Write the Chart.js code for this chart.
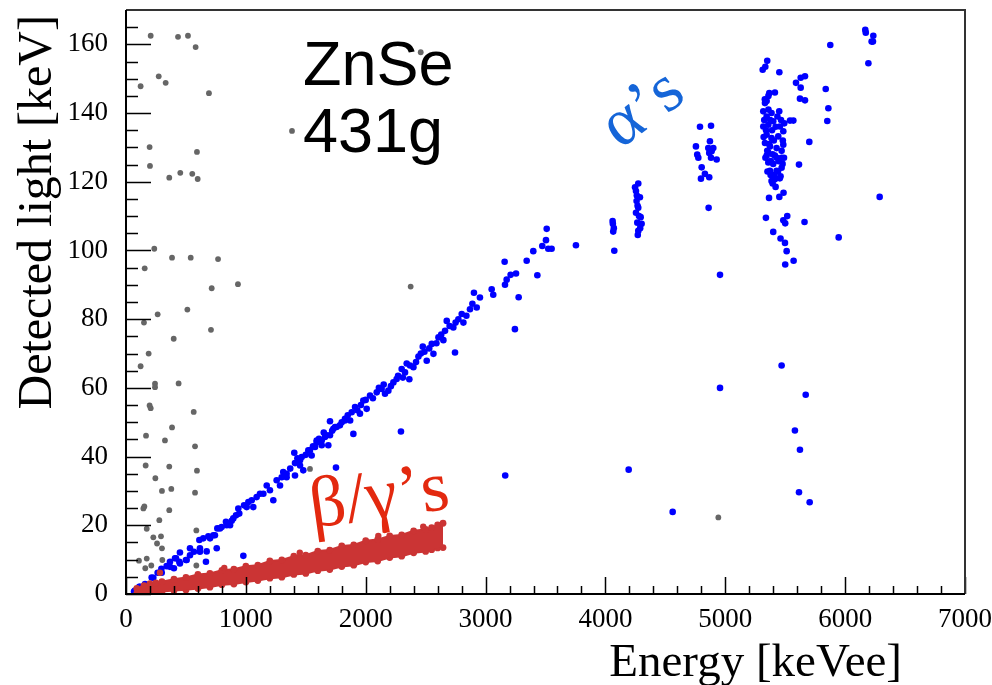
<!DOCTYPE html>
<html>
<head>
<meta charset="utf-8">
<script src="https://cdn.jsdelivr.net/npm/chart.js@4.4.1/dist/chart.umd.min.js"></script>
<style>
  html, body { margin: 0; padding: 0; background: #fff; }
  #wrap { width: 992px; height: 685px; }
</style>
</head>
<body>
<div id="wrap"><canvas id="light_chart" width="992" height="685"></canvas></div>
<script>
// axis ticks
const xTicks = [0, 1000, 2000, 3000, 4000, 5000, 6000, 7000]
const yTicks = [0, 20, 40, 60, 80, 100, 120, 140, 160]

// grey events (energy keVee, light keV)
const greyPts = [
    [206, 162.5], [434, 162.2], [517, 162.5], [581, 159.2], [273, 150.7], [331, 148.8],
    [122, 147.8], [692, 145.8], [1385, 134.8], [197, 130.1], [592, 128.7], [200, 124.6],
    [361, 121.2], [453, 122.6], [553, 122.3], [598, 120.8], [236, 100.5], [156, 94.8],
    [384, 97.9], [540, 97.9], [768, 97.5], [715, 89.0], [934, 90.2], [2375, 89.5],
    [2459, 157.7], [150, 79.0], [264, 81.4], [512, 82.8], [709, 76.9], [398, 74.3],
    [189, 70.0], [122, 66.3], [242, 61.2], [242, 60.2], [439, 61.3], [197, 54.9],
    [206, 54.1], [565, 53.0], [384, 48.5], [167, 46.1], [576, 43.0], [325, 44.7],
    [164, 37.4], [361, 37.1], [592, 35.9], [245, 33.7], [300, 30.0], [378, 30.6],
    [576, 29.5], [145, 24.9], [153, 25.5], [361, 24.4], [278, 21.5], [173, 19.0],
    [587, 18.5], [228, 16.5], [292, 16.8], [259, 14.7], [300, 13.3], [108, 9.7],
    [173, 10.3], [303, 9.9], [211, 8.3], [161, 7.5], [587, 8.3], [1535, 36.4],
    [4942, 22.3]
]

// alpha-like / blue events
const bluePts = [
    [67, 0.7], [75, 1.0], [111, 2.1], [117, 2.1], [159, 2.9], [214, 4.8], [228, 4.7],
    [264, 6.2], [295, 7.3], [298, 6.2], [339, 8.1], [367, 9.4], [367, 7.9], [400, 7.5],
    [409, 10.4], [417, 10.4], [445, 9.4], [450, 12.1], [450, 8.9], [500, 9.9], [506, 9.9],
    [534, 11.3], [534, 13.3], [567, 12.3], [612, 15.7], [617, 13.3], [617, 12.3],
    [645, 16.2], [667, 9.4], [673, 12.4], [687, 16.8], [701, 16.2], [729, 17.1],
    [742, 17.1], [757, 13.3], [762, 19.1], [784, 19.1], [798, 19.5], [834, 21.0],
    [840, 20.0], [868, 20.0], [882, 21.3], [895, 22.0], [918, 22.9], [937, 24.9],
    [945, 23.4], [979, 11.1], [985, 25.8], [1007, 25.3], [1021, 26.8], [1049, 27.3],
    [1062, 25.3], [1090, 28.2], [1118, 29.2], [1146, 29.2], [1174, 31.6], [1201, 30.2],
    [1229, 27.3], [1257, 33.1], [1285, 31.6], [1299, 34.0], [1312, 35.5], [1340, 34.0],
    [1340, 35.0], [1370, 36.5], [1404, 41.1], [1410, 34.5], [1410, 38.1], [1430, 39.5],
    [1452, 38.9], [1452, 37.4], [1466, 39.9], [1479, 36.0], [1500, 40.5], [1521, 41.8],
    [1535, 41.8], [1549, 40.3], [1560, 43.0], [1577, 42.8], [1591, 44.7], [1591, 44.2],
    [1610, 45.2], [1633, 43.3], [1633, 44.7], [1650, 47.0], [1660, 45.7], [1674, 46.2],
    [1688, 43.3], [1702, 50.3], [1702, 46.2], [1720, 47.5], [1730, 48.1], [1744, 48.6],
    [1752, 36.8], [1757, 48.6], [1785, 49.1], [1800, 50.0], [1827, 51.0], [1827, 50.5],
    [1850, 52.0], [1870, 50.5], [1883, 52.9], [1897, 46.6], [1911, 54.4], [1930, 53.5],
    [1952, 52.5], [1960, 55.0], [1980, 56.3], [2000, 56.5], [2008, 53.9], [2036, 57.8],
    [2060, 57.0], [2092, 58.7], [2110, 60.0], [2133, 59.7], [2150, 61.0], [2161, 58.3],
    [2189, 59.2], [2210, 60.5], [2231, 61.6], [2258, 62.6], [2270, 63.5], [2294, 47.3],
    [2300, 65.5], [2310, 63.0], [2328, 64.5], [2342, 67.1], [2364, 62.5], [2370, 66.5],
    [2398, 66.0], [2420, 67.5], [2440, 69.1], [2460, 70.0], [2476, 72.0], [2490, 70.5],
    [2509, 67.9], [2530, 71.5], [2551, 72.8], [2565, 69.9], [2590, 73.0], [2607, 74.7],
    [2630, 75.5], [2648, 73.9], [2662, 76.6], [2676, 79.5], [2700, 78.0], [2731, 77.6],
    [2745, 70.3], [2750, 79.0], [2773, 80.0], [2801, 81.5], [2815, 79.0], [2840, 81.0],
    [2870, 82.9], [2890, 84.5], [2903, 87.7], [2926, 83.4], [2953, 86.3], [3051, 88.7],
    [3064, 87.1], [3159, 96.7], [3162, 90.0], [3164, 34.5], [3176, 91.5], [3209, 92.9],
    [3245, 77.1], [3254, 93.3], [3276, 86.4], [3343, 97.0], [3398, 99.8], [3432, 92.8],
    [3473, 101.3], [3504, 103.0], [3510, 106.3], [3523, 100.5], [3551, 100.5], [3754, 101.5],
    // ~4100 and ~4300 groups
    [4060, 108.6], [4065, 105.5], [4070, 106.5], [4074, 99.9], [4062, 107.8],
    [4247, 118.4], [4274, 119.5], [4255, 117.3], [4288, 115.5], [4260, 114.4], [4274, 112.4],
    [4294, 109.7], [4266, 108.1], [4302, 107.8], [4274, 105.7], [4255, 111.0], [4268, 113.0],
    [4280, 110.0], [4262, 116.0], [4290, 106.5], [4270, 104.5],
    // ~4850 group
    [4789, 136.0], [4881, 136.3], [4755, 130.3], [4766, 127.9], [4775, 127.0], [4872, 131.8],
    [4858, 129.8], [4886, 128.9], [4900, 129.8], [4866, 128.4], [4881, 127.0], [4928, 126.5],
    [4803, 124.2], [4830, 122.3], [4797, 120.9], [4866, 121.3], [4861, 112.4], [4956, 92.9],
    // ~5400 group
    [5331, 142.9], [5317, 140.5], [5345, 139.0], [5386, 140.0], [5450, 140.5], [5317, 136.1],
    [5359, 136.6], [5400, 137.6], [5456, 136.1], [5484, 134.7], [5345, 133.7], [5386, 132.7],
    [5442, 133.2], [5331, 131.3], [5373, 130.3], [5428, 129.8], [5484, 130.8], [5359, 128.5],
    [5414, 127.6], [5470, 127.0], [5345, 127.6], [5359, 125.6], [5400, 125.2], [5478, 125.2],
    [5373, 123.2], [5428, 123.2], [5470, 124.1], [5386, 120.2], [5414, 120.7], [5461, 121.6],
    [5325, 138.0], [5340, 135.0], [5360, 141.0], [5375, 138.0], [5390, 135.0], [5405, 132.0],
    [5420, 136.0], [5435, 139.0], [5465, 138.0], [5480, 132.0], [5470, 129.0], [5445, 126.0],
    [5430, 127.0], [5395, 128.0], [5380, 126.0], [5365, 131.0], [5350, 129.0], [5335, 127.0],
    [5320, 133.0], [5410, 122.0], [5440, 123.0], [5455, 121.0], [5395, 119.5], [5420, 118.5],
    [5378, 122.0], [5352, 123.0], [5490, 127.0], [5492, 137.0], [5330, 144.0], [5345, 143.5],
    [5360, 145.0], [5350, 155.2], [5334, 153.5], [5312, 152.6], [5451, 151.9], [5367, 145.8],
    [5414, 146.0], [5540, 137.8], [5568, 137.8], [5701, 131.6], [5615, 125.0], [5365, 115.3],
    [5451, 115.6], [5486, 116.8], [5339, 109.5], [5484, 108.8], [5517, 110.0], [5500, 107.9],
    [5661, 108.3], [5400, 105.4], [5461, 103.5], [5498, 102.2], [5512, 99.8], [5570, 97.0],
    [5500, 95.9], [5590, 148.8], [5629, 150.3], [5665, 150.7], [5629, 147.4], [5623, 144.2],
    [5665, 143.7],
    // upper right
    [5838, 147.0], [5860, 141.4], [5851, 137.7], [5876, 159.8], [5946, 103.8], [6168, 164.2],
    [6172, 163.4], [6235, 162.5], [6221, 160.8], [6232, 160.8], [6194, 154.5], [6288, 115.6],
    // scattered low
    [4194, 36.2], [4561, 23.9], [4956, 60.0], [5470, 66.5], [5671, 58.0], [5581, 47.6],
    [5623, 42.0], [5615, 29.6], [5704, 26.7]
]

// beta/gamma band: lower and upper edge of the red cloud
const redE = [90, 150, 200, 250, 300, 400, 500, 600, 700, 800, 900, 1000, 1100, 1200, 1300,
    1400, 1500, 1600, 1700, 1800, 1900, 2000, 2100, 2200, 2300, 2400, 2500, 2550, 2600, 2645]
const redLow = [0.2, 0.3, 0.5, 0.6, 0.7, 1.0, 1.2, 1.6, 2.0, 2.7, 2.9, 3.5, 3.9, 4.6, 4.9,
    5.7, 6.0, 6.8, 7.1, 8.0, 8.4, 9.3, 9.6, 10.6, 11.0, 12.0, 12.4, 12.9, 13.4, 13.5]
const redHigh = [1.6, 2.4, 3.0, 3.2, 3.6, 4.3, 4.8, 5.7, 6.0, 6.9, 7.2, 8.1, 8.4, 9.6, 9.9,
    11.0, 11.3, 12.5, 12.8, 14.0, 14.3, 15.5, 15.9, 16.9, 17.2, 18.4, 18.8, 19.3, 20.1, 20.6]
const redPts = [[283, 6.2], [2105, 16.9], [2480, 19.6], [1450, 12.0], [820, 7.6]]

const RED = '#cb3434'
const xy = arr => arr.map(p => ({ x: p[0], y: p[1] }))

// frame, inward ticks and the text labels (ROOT style)
const rootStyle = {
    id: 'rootStyle',
    afterDraw(chart) {
        const ctx = chart.ctx
        const a = chart.chartArea
        const sx = chart.scales.x
        const sy = chart.scales.y
        ctx.save()
        ctx.strokeStyle = '#000'
        ctx.lineWidth = 1.5
        ctx.beginPath()
        for (let v = 0; v <= 7000; v += 200) {
            const px = Math.round(sx.getPixelForValue(v)) + 0.5
            const len = v % 1000 === 0 ? 17 : 8
            ctx.moveTo(px, a.bottom)
            ctx.lineTo(px, a.bottom - len)
        }
        for (let v = 0; v <= 165; v += 5) {
            const py = Math.round(sy.getPixelForValue(v)) + 0.5
            const len = v % 20 === 0 ? 25 : 12
            ctx.moveTo(a.left, py)
            ctx.lineTo(a.left + len, py)
        }
        ctx.stroke()

        ctx.lineWidth = 2
        ctx.strokeStyle = '#333'
        ctx.beginPath()
        ctx.moveTo(a.left, a.top)
        ctx.lineTo(a.right, a.top)
        ctx.lineTo(a.right, a.bottom)
        ctx.stroke()
        ctx.strokeStyle = '#000'
        ctx.beginPath()
        ctx.moveTo(a.left, a.top)
        ctx.lineTo(a.left, a.bottom)
        ctx.lineTo(a.right, a.bottom)
        ctx.stroke()

        // axis titles
        ctx.fillStyle = '#000'
        ctx.font = '47px "Liberation Serif"'
        ctx.textBaseline = 'alphabetic'
        ctx.textAlign = 'right'
        ctx.fillText('Energy [keVee]', 902, 676)
        ctx.save()
        ctx.translate(51, 15)
        ctx.rotate(-Math.PI / 2)
        ctx.font = '48px "Liberation Serif"'
        ctx.textAlign = 'right'
        ctx.fillText('Detected light [keV]', 0, 0)
        ctx.restore()

        // crystal label
        ctx.textAlign = 'left'
        ctx.font = '63px "Liberation Sans"'
        ctx.fillText('ZnSe', 303, 85)
        ctx.fillText('431g', 303, 152)

        // population labels
        ctx.save()
        ctx.fillStyle = '#1565d8'
        ctx.font = '68px "Liberation Serif"'
        ctx.translate(654, 124)
        ctx.rotate(-37 * Math.PI / 180)
        ctx.textAlign = 'center'
        ctx.fillText('\u03b1\u2019s', 0, 0)
        ctx.restore()

        ctx.save()
        ctx.fillStyle = '#e3290f'
        ctx.font = '72px "Liberation Serif"'
        ctx.translate(382, 518)
        ctx.rotate(-8 * Math.PI / 180)
        ctx.textAlign = 'center'
        ctx.fillText('\u03b2/\u03b3\u2019s', 0, 0)
        ctx.restore()
        ctx.restore()
    }
}

const tickFont = { family: 'Liberation Serif', size: 27 }

const config = {
    type: 'scatter',
    data: {
        datasets: [
            {
                label: 'grey',
                data: xy(greyPts),
                pointRadius: 2.9,
                pointBorderWidth: 0,
                pointBackgroundColor: '#666666',
                order: 4
            },
            {
                label: 'alpha',
                data: xy(bluePts),
                pointRadius: 3.3,
                pointBorderWidth: 0,
                pointBackgroundColor: '#0000ff',
                order: 3
            },
            {
                type: 'line',
                label: 'band low',
                data: redE.map((e, i) => ({ x: e, y: redLow[i] })),
                borderColor: RED,
                borderWidth: 2,
                pointRadius: 3.4,
                pointBorderWidth: 0,
                pointBackgroundColor: RED,
                fill: false,
                tension: 0,
                order: 2
            },
            {
                type: 'line',
                label: 'band high',
                data: redE.map((e, i) => ({ x: e, y: redHigh[i] })),
                borderColor: RED,
                borderWidth: 2,
                backgroundColor: RED,
                pointRadius: 3.4,
                pointBorderWidth: 0,
                pointBackgroundColor: RED,
                fill: '-1',
                tension: 0,
                order: 1
            },
            {
                label: 'red',
                data: xy(redPts),
                pointRadius: 3.2,
                pointBorderWidth: 0,
                pointBackgroundColor: RED,
                order: 0
            }
        ]
    },
    options: {
        responsive: false,
        animation: false,
        layout: { padding: { left: 0, right: 27, top: 10, bottom: 0 } },
        plugins: {
            legend: { display: false },
            tooltip: { enabled: false }
        },
        scales: {
            x: {
                type: 'linear',
                min: 0,
                max: 7000,
                grid: { display: false },
                border: { display: false },
                ticks: {
                    font: tickFont, color: '#000', padding: 2, maxRotation: 0, autoSkip: false,
                    callback: v => String(v)
                },
                afterBuildTicks: s => { s.ticks = xTicks.map(v => ({ value: v })) },
                afterFit: s => { s.height = 91; s.paddingLeft = 0; s.paddingRight = 0 }
            },
            y: {
                type: 'linear',
                min: 0,
                max: 170,
                grid: { display: false },
                border: { display: false },
                ticks: {
                    font: tickFont, color: '#000', padding: 10, autoSkip: false,
                    callback: v => String(v)
                },
                afterBuildTicks: s => { s.ticks = yTicks.map(v => ({ value: v })) },
                afterFit: s => { s.width = 126; s.paddingTop = 0; s.paddingBottom = 0 }
            }
        }
    },
    plugins: [rootStyle]
}

const ctx = document.getElementById('light_chart').getContext('2d')
new Chart(ctx, config)
</script>
</body>
</html>
